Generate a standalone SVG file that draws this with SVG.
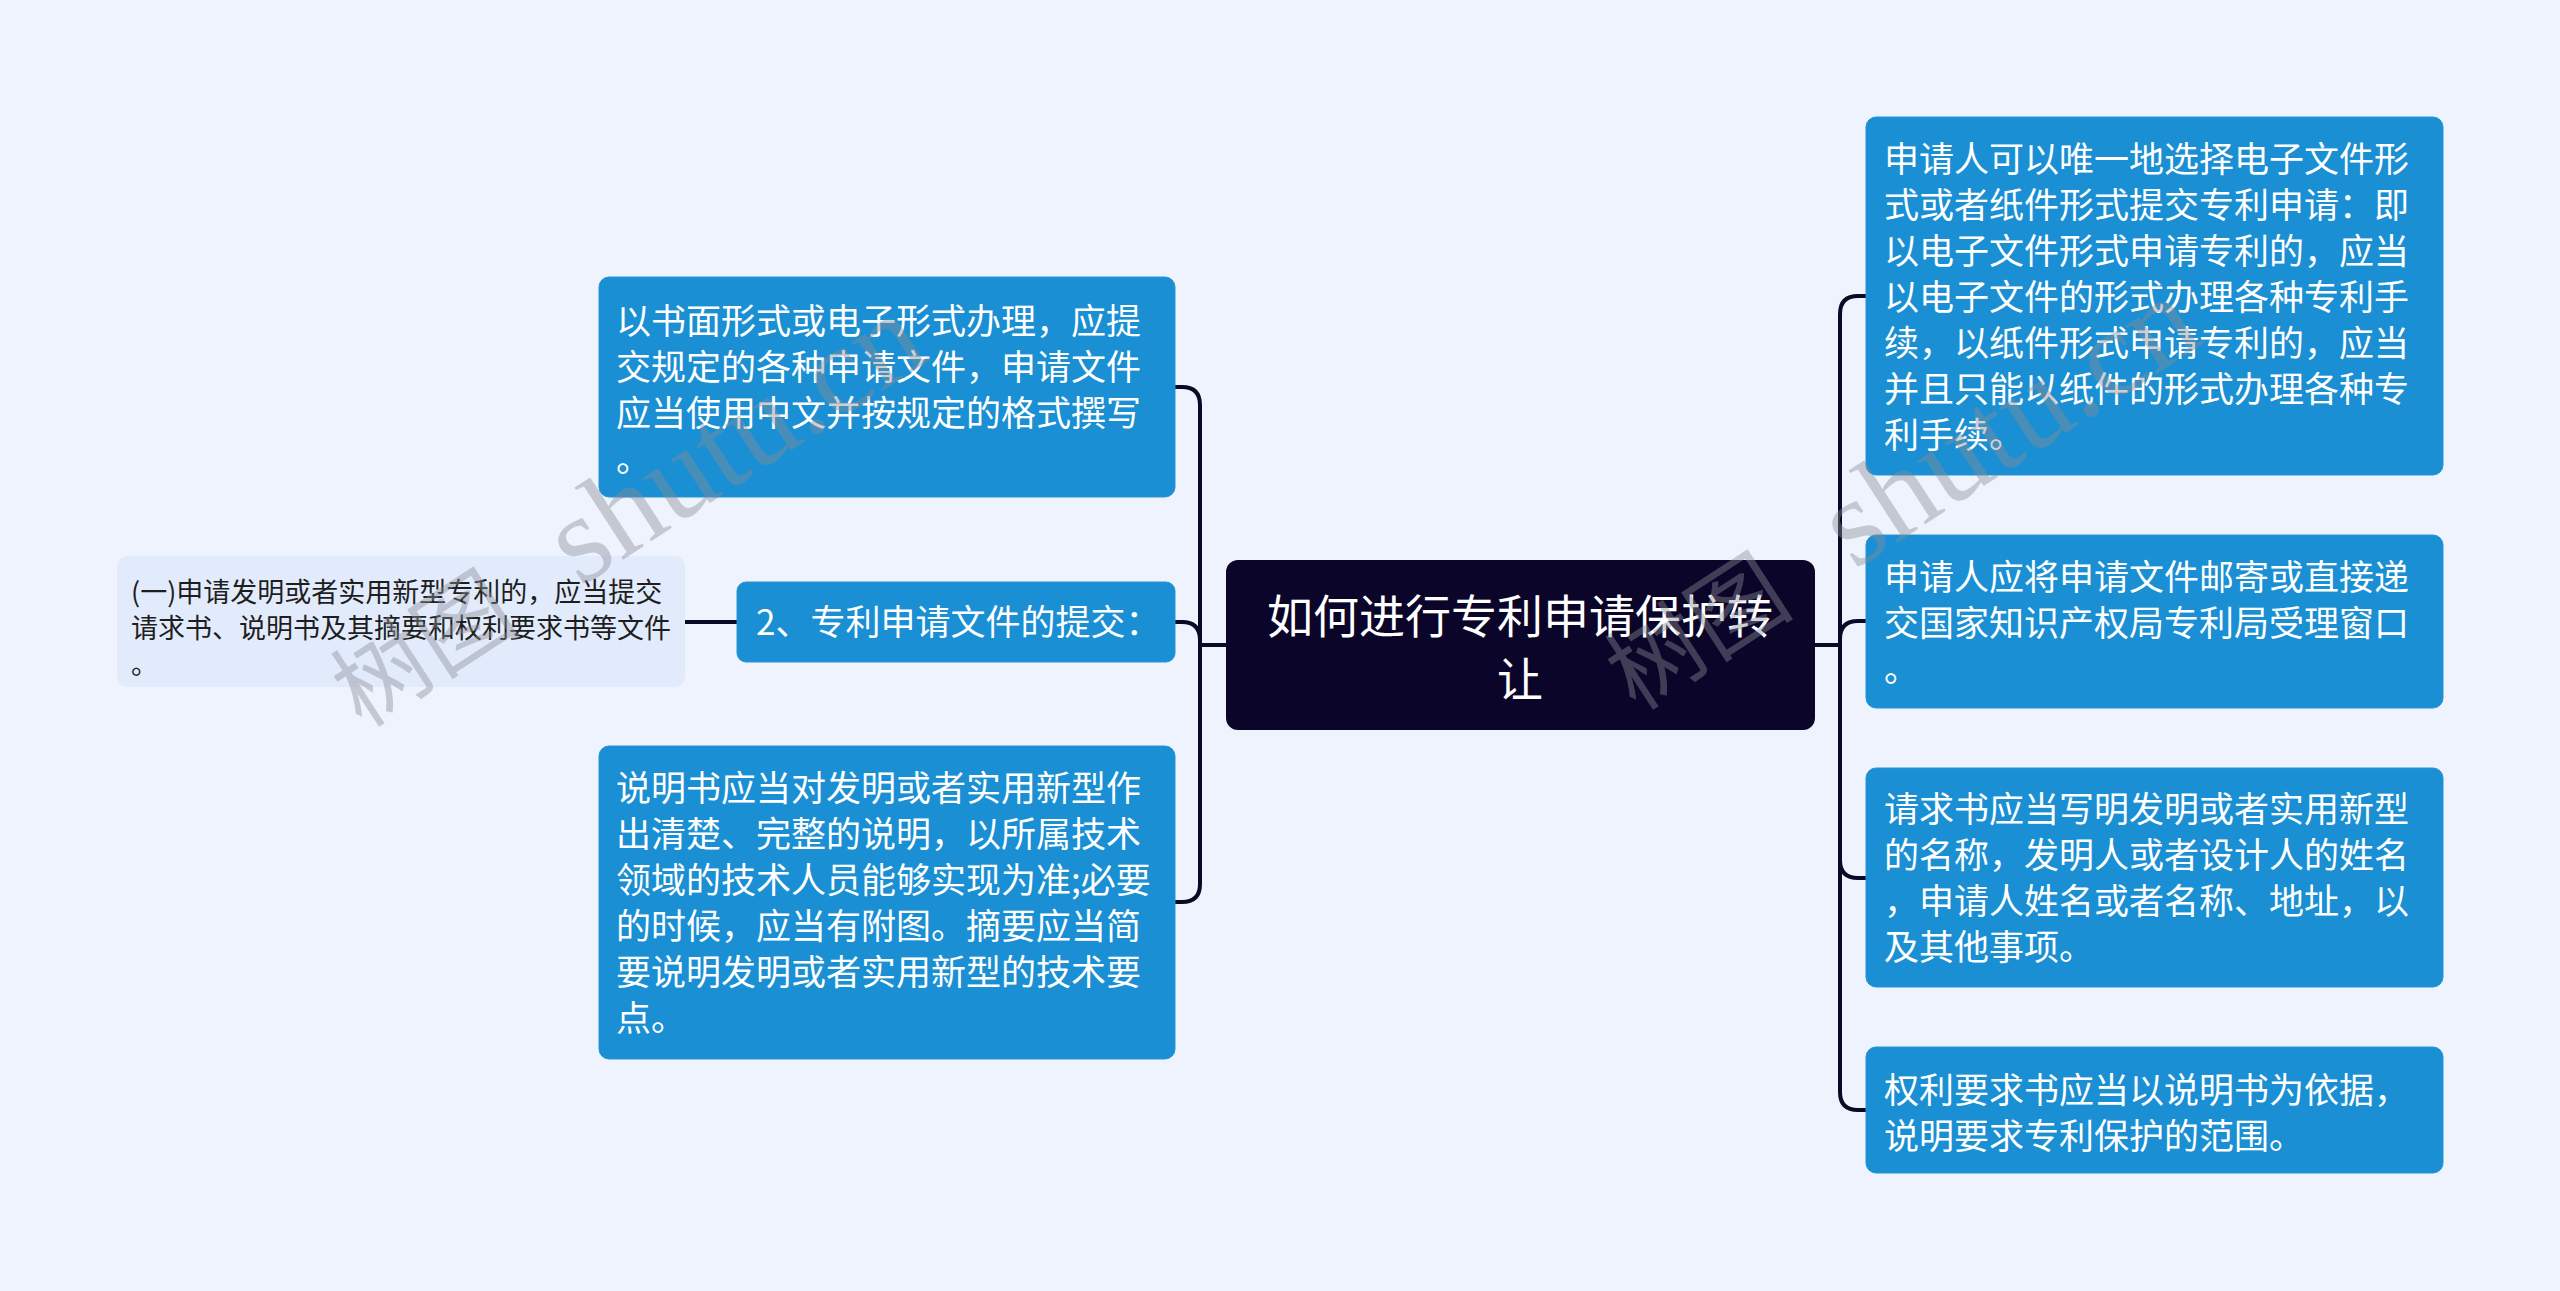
<svg xmlns="http://www.w3.org/2000/svg" width="2560" height="1291" viewBox="0 0 2560 1291">
<style>
.bg{fill:#EEF3FD}
.blue{fill:#1A8FD3;stroke:#2794D2;stroke-width:1}
.root{fill:#0B0629}
.sub{fill:#E2EBFB}
.t{font-family:"Noto Sans CJK SC","Noto Sans",sans-serif;fill:#FFFFFF;font-size:35px}
.tr{font-family:"Noto Sans CJK SC","Noto Sans",sans-serif;fill:#FFFFFF;font-size:46px;text-anchor:middle}
.ts{font-family:"Noto Sans CJK SC","Noto Sans",sans-serif;fill:#1E1E1E;font-size:27px}
.c{fill:none;stroke:#0B0A26;stroke-width:4;stroke-linejoin:round}
.wm{font-family:"Liberation Serif","Noto Sans CJK SC",serif;font-size:95px;fill:#8A8C96;fill-opacity:0.42}
.wl{font-size:125px}
</style>
<rect class="bg" x="0" y="0" width="2560" height="1291"/>

<g id="connectors">
  <path class="c" d="M1226,645 H1200 V405 Q1200,387 1182,387 H1175"/>
  <path class="c" d="M1226,645 H1200 V640 Q1200,622 1182,622 H1175"/>
  <path class="c" d="M1226,645 H1200 V884 Q1200,902 1182,902 H1175"/>
  <path class="c" d="M737,622 H685"/>
  <path class="c" d="M1815,645 H1840 V314 Q1840,296 1858,296 H1866"/>
  <path class="c" d="M1815,645 H1840 V639 Q1840,621 1858,621 H1866"/>
  <path class="c" d="M1815,645 H1840 V860 Q1840,878 1858,878 H1866"/>
  <path class="c" d="M1815,645 H1840 V1092 Q1840,1110 1858,1110 H1866"/>
</g>

<g id="root">
  <rect class="root" x="1226" y="560" width="589" height="170" rx="12"/>
  <text class="tr" x="1520" y="633">如何进行专利申请保护转</text>
  <text class="tr" x="1520" y="696">让</text>
</g>

<g id="r1">
  <rect class="blue" x="1866" y="117" width="577" height="358" rx="10"/>
  <text class="t" x="1884" y="172">申请人可以唯一地选择电子文件形</text>
  <text class="t" x="1884" y="218">式或者纸件形式提交专利申请：即</text>
  <text class="t" x="1884" y="264">以电子文件形式申请专利的，应当</text>
  <text class="t" x="1884" y="310">以电子文件的形式办理各种专利手</text>
  <text class="t" x="1884" y="356">续，以纸件形式申请专利的，应当</text>
  <text class="t" x="1884" y="402">并且只能以纸件的形式办理各种专</text>
  <text class="t" x="1884" y="448">利手续。</text>
</g>

<g id="r2">
  <rect class="blue" x="1866" y="535" width="577" height="173" rx="10"/>
  <text class="t" x="1884" y="590">申请人应将申请文件邮寄或直接递</text>
  <text class="t" x="1884" y="636">交国家知识产权局专利局受理窗口</text>
  <text class="t" x="1884" y="682">。</text>
</g>

<g id="r3">
  <rect class="blue" x="1866" y="768" width="577" height="219" rx="10"/>
  <text class="t" x="1884" y="822">请求书应当写明发明或者实用新型</text>
  <text class="t" x="1884" y="868">的名称，发明人或者设计人的姓名</text>
  <text class="t" x="1884" y="914">，申请人姓名或者名称、地址，以</text>
  <text class="t" x="1884" y="960">及其他事项。</text>
</g>

<g id="r4">
  <rect class="blue" x="1866" y="1047" width="577" height="126" rx="10"/>
  <text class="t" x="1884" y="1103">权利要求书应当以说明书为依据，</text>
  <text class="t" x="1884" y="1149">说明要求专利保护的范围。</text>
</g>

<g id="l1">
  <rect class="blue" x="599" y="277" width="576" height="220" rx="10"/>
  <text class="t" x="616" y="334">以书面形式或电子形式办理，应提</text>
  <text class="t" x="616" y="380">交规定的各种申请文件，申请文件</text>
  <text class="t" x="616" y="426">应当使用中文并按规定的格式撰写</text>
  <text class="t" x="616" y="472">。</text>
</g>

<g id="l2">
  <rect class="blue" x="737" y="582" width="438" height="80" rx="9"/>
  <text class="t" x="756" y="635">2、专利申请文件的提交：</text>
</g>

<g id="l3">
  <rect class="blue" x="599" y="746" width="576" height="313" rx="10"/>
  <text class="t" x="616" y="801">说明书应当对发明或者实用新型作</text>
  <text class="t" x="616" y="847">出清楚、完整的说明，以所属技术</text>
  <text class="t" x="616" y="893">领域的技术人员能够实现为准;必要</text>
  <text class="t" x="616" y="939">的时候，应当有附图。摘要应当简</text>
  <text class="t" x="616" y="985">要说明发明或者实用新型的技术要</text>
  <text class="t" x="616" y="1031">点。</text>
</g>

<g id="l2a">
  <rect class="sub" x="117" y="556" width="568" height="131" rx="10"/>
  <text class="ts" x="131" y="602">(一)申请发明或者实用新型专利的，应当提交</text>
  <text class="ts" x="131" y="638">请求书、说明书及其摘要和权利要求书等文件</text>
  <text class="ts" x="131" y="674">。</text>
</g>

<g id="watermark">
  <text class="wm" transform="translate(362,729) rotate(-33)">树图<tspan class="wl" dx="70">shutu.cn</tspan></text>
  <text class="wm" transform="translate(1636,712) rotate(-33)">树图<tspan class="wl" dx="70">shutu.cn</tspan></text>
</g>
</svg>
